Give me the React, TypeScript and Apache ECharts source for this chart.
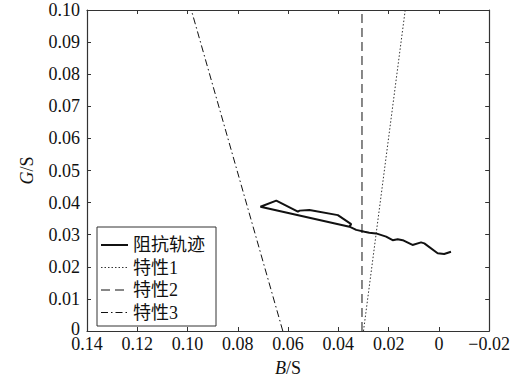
import React, { useEffect, useRef } from "react";
import * as echarts from "echarts";

// Impedance trajectory [B, G]
const trajB = [-0.0048, -0.0021, 0.0005, 0.0058, 0.0071, 0.0105, 0.0144, 0.0164, 0.0184, 0.021, 0.025, 0.0277, 0.0296, 0.0329, 0.0356, 0.071, 0.0647, 0.0561, 0.0554, 0.0515, 0.0402, 0.0349, 0.0356];
const trajG = [0.0247, 0.024, 0.0242, 0.0273, 0.0276, 0.0268, 0.0283, 0.0286, 0.0283, 0.0294, 0.0304, 0.0306, 0.0309, 0.0315, 0.0325, 0.0387, 0.0406, 0.0372, 0.0375, 0.0377, 0.0361, 0.0333, 0.0325];
// Characteristic lines (two end points each)
const char1B = [0.030, 0.0134];
const char1G = [0, 0.1];
const char2B = [0.0306, 0.0306];
const char2G = [0, 0.1];
const char3B = [0.0621, 0.0985];
const char3G = [0, 0.1];
const seriesNames = ["阻抗轨迹", "特性1", "特性2", "特性3"];

const zip = (a: number[], b: number[]) => a.map((v, i) => [v, b[i]]);

const fmtX = (v: number) => {
  if (Math.abs(v) < 1e-9) return "0";
  if (v < 0) return "\u2212" + Math.abs(v).toFixed(2);
  return v.toFixed(2);
};
const fmtY = (v: number) => (Math.abs(v) < 1e-9 ? "{z|0}" : v.toFixed(2));

const FONT = "Liberation Serif, Times New Roman, DejaVu Serif, Noto Sans CJK SC, serif";
const TXT = "#111";

const STYLES = [
  { color: "#111", width: 2, dash: null as number[] | null },
  { color: "#333", width: 1, dash: [1.5, 2] },
  { color: "#111", width: 1, dash: [9, 5] },
  { color: "#111", width: 1, dash: [7, 3, 1.5, 3] },
];

export default function App() {
  const ref = useRef<HTMLDivElement>(null);
  useEffect(() => {
    if (!ref.current) return;
    const chart = echarts.init(ref.current, undefined, { renderer: "svg" });
    const axisLine = { show: true, onZero: false, lineStyle: { color: "#333", width: 1.2 } };
    const tick = { show: true, inside: true, length: 4, lineStyle: { color: "#333" } };
    const baseX = {
      type: "value" as const,
      min: -0.02,
      max: 0.14,
      interval: 0.02,
      inverse: true,
      splitLine: { show: false },
      axisLine,
      axisTick: tick,
    };
    const baseY = {
      type: "value" as const,
      min: 0,
      max: 0.1,
      interval: 0.01,
      splitLine: { show: false },
      axisLine,
      axisTick: tick,
    };
    const lx = 97, ly = 227, lw = 119, lh = 99;
    const legendEls: any[] = [
      {
        type: "rect",
        shape: { x: lx, y: ly, width: lw, height: lh },
        style: { fill: "#fff", stroke: "#333", lineWidth: 1 },
        z: 100,
      },
    ];
    seriesNames.forEach((n, i) => {
      const cy = ly + 18 + i * 22.5;
      const s = STYLES[i];
      legendEls.push({
        type: "line",
        shape: { x1: lx + 4, y1: cy, x2: lx + 31, y2: cy },
        style: { stroke: s.color, lineWidth: s.width, lineDash: s.dash || undefined },
        z: 101,
      });
      legendEls.push({
        type: "text",
        x: lx + 36,
        y: cy,
        style: {
          text: n,
          fontSize: 18,
          fontFamily: FONT,
          fill: TXT,
          verticalAlign: "middle",
          align: "left",
        },
        z: 101,
      });
    });
    chart.setOption({
      animation: false,
      backgroundColor: "#fff",
      textStyle: { fontFamily: FONT },
      grid: { left: 87, right: 23, top: 10, bottom: 57 },
      xAxis: [
        {
          ...baseX,
          position: "bottom",
          axisLabel: { formatter: fmtX, fontSize: 18, lineHeight: 14, color: TXT, margin: 6, fontFamily: FONT },
          name: "{i|B}/S",
          nameLocation: "middle",
          nameGap: 28,
          nameTextStyle: {
            fontSize: 18,
            color: TXT,
            fontFamily: FONT,
            rich: { i: { fontStyle: "italic", fontSize: 18, color: TXT, fontFamily: FONT } },
          },
        },
        { ...baseX, position: "top", axisLabel: { show: false } },
      ],
      yAxis: [
        {
          ...baseY,
          position: "left",
          axisLabel: {
            formatter: fmtY,
            fontSize: 18,
            lineHeight: 12,
            color: TXT,
            margin: 7,
            fontFamily: FONT,
            rich: { z: { fontSize: 18, lineHeight: 12, color: TXT, fontFamily: FONT, padding: [0, 0, 4, 0] } },
          },
          name: "{i|G}/S",
          nameLocation: "middle",
          nameGap: 51,
          nameTextStyle: {
            fontSize: 18,
            color: TXT,
            fontFamily: FONT,
            rich: { i: { fontStyle: "italic", fontSize: 18, color: TXT, fontFamily: FONT } },
          },
        },
        { ...baseY, position: "right", axisLabel: { show: false } },
      ],
      graphic: legendEls,
      series: seriesNames.map((n, i) => ({
        name: n,
        type: "line",
        data: i === 0 ? zip(trajB, trajG) : i === 1 ? zip(char1B, char1G) : i === 2 ? zip(char2B, char2G) : zip(char3B, char3G),
        symbol: "none",
        lineStyle: { color: STYLES[i].color, width: STYLES[i].width, type: STYLES[i].dash || "solid" },
        z: i === 0 ? 5 : 2,
      })),
    });
    return () => chart.dispose();
  }, []);
  return <div ref={ref} style={{ width: 513, height: 388, position: "absolute", left: 0, top: 0 }} />;
}
